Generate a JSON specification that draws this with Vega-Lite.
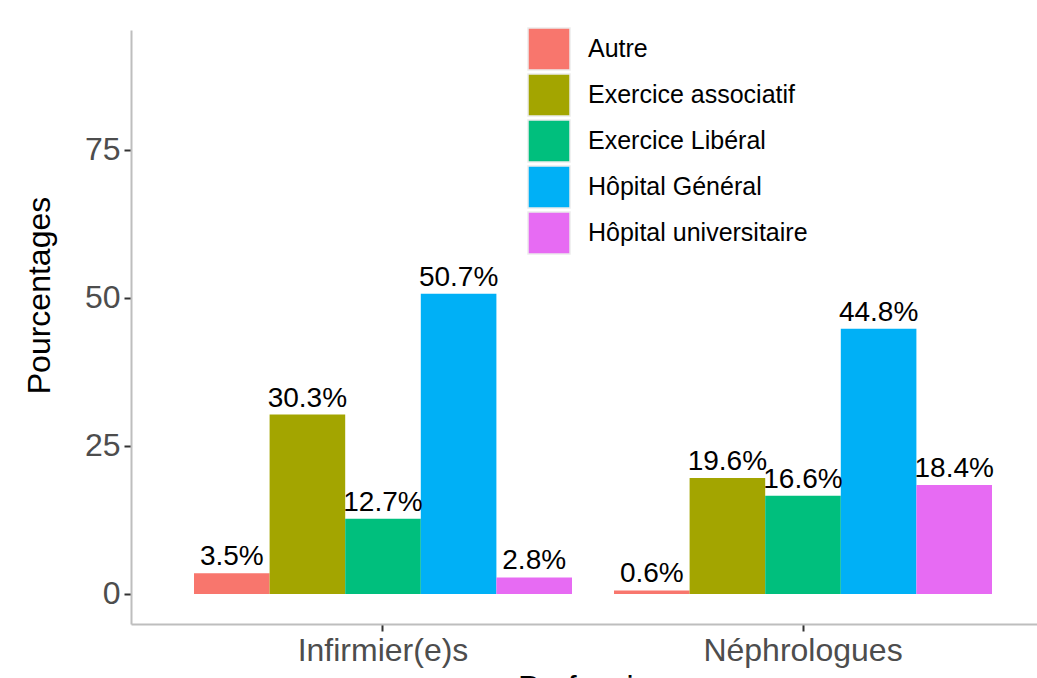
{
  "$schema": "https://vega.github.io/schema/vega-lite/v6.json",
  "autosize": {"type": "none"},
  "padding": {"left": 131, "top": 30, "right": 0, "bottom": 54},
  "width": 924,
  "height": 594,
  "background": "white",
  "config": {
    "view": {"stroke": null},
    "font": "Liberation Sans"
  },
  "data": {
    "values": [
      {"profession": "Infirmier(e)s", "lieu": "Autre", "pct": 3.5, "label": "3.5%"},
      {"profession": "Infirmier(e)s", "lieu": "Exercice associatif", "pct": 30.3, "label": "30.3%"},
      {"profession": "Infirmier(e)s", "lieu": "Exercice Libéral", "pct": 12.7, "label": "12.7%"},
      {"profession": "Infirmier(e)s", "lieu": "Hôpital Général", "pct": 50.7, "label": "50.7%"},
      {"profession": "Infirmier(e)s", "lieu": "Hôpital universitaire", "pct": 2.8, "label": "2.8%"},
      {"profession": "Néphrologues", "lieu": "Autre", "pct": 0.6, "label": "0.6%"},
      {"profession": "Néphrologues", "lieu": "Exercice associatif", "pct": 19.6, "label": "19.6%"},
      {"profession": "Néphrologues", "lieu": "Exercice Libéral", "pct": 16.6, "label": "16.6%"},
      {"profession": "Néphrologues", "lieu": "Hôpital Général", "pct": 44.8, "label": "44.8%"},
      {"profession": "Néphrologues", "lieu": "Hôpital universitaire", "pct": 18.4, "label": "18.4%"}
    ]
  },
  "encoding": {
    "x": {
      "field": "profession",
      "type": "nominal",
      "scale": {"paddingInner": 0.1, "paddingOuter": 0.15},
      "axis": {
        "title": "Profession",
        "titleFontSize": 32,
        "titleFontWeight": "normal",
        "titleColor": "black",
        "titlePadding": 6,
        "labelAngle": 0,
        "labelFontSize": 32,
        "labelColor": "#4D4D4D",
        "labelPadding": 4,
        "labelLimit": 400,
        "tickSize": 7,
        "tickWidth": 2,
        "tickColor": "#333333",
        "domainColor": "#BEBEBE",
        "domainWidth": 2,
        "grid": false
      }
    },
    "xOffset": {
      "field": "lieu",
      "type": "nominal",
      "sort": ["Autre", "Exercice associatif", "Exercice Libéral", "Hôpital Général", "Hôpital universitaire"],
      "scale": {"paddingInner": 0, "paddingOuter": 0}
    },
    "y": {
      "field": "pct",
      "type": "quantitative",
      "scale": {"domain": [-5.07, 95.27], "nice": false, "zero": false},
      "axis": {
        "title": "Pourcentages",
        "titleFontSize": 32,
        "titleFontWeight": "normal",
        "titleColor": "black",
        "titleX": -82,
        "titleY": 265,
        "titleBaseline": "alphabetic",
        "values": [0, 25, 50, 75],
        "labelFontSize": 32,
        "labelColor": "#4D4D4D",
        "labelPadding": 4,
        "tickSize": 7,
        "tickWidth": 2,
        "tickColor": "#333333",
        "domainColor": "#BEBEBE",
        "domainWidth": 2,
        "grid": false
      }
    }
  },
  "layer": [
    {
      "mark": {"type": "bar"},
      "encoding": {
        "y": {"field": "pct", "type": "quantitative", "stack": null},
        "y2": {"datum": 0},
        "color": {
          "field": "lieu",
          "type": "nominal",
          "scale": {
            "domain": ["Autre", "Exercice associatif", "Exercice Libéral", "Hôpital Général", "Hôpital universitaire"],
            "range": ["#F8766D", "#A3A500", "#00BF7D", "#00B0F6", "#E76BF3"]
          },
          "legend": {
            "title": null,
            "orient": "none",
            "legendX": 396,
            "legendY": -3,
            "padding": 0,
            "symbolType": "square",
            "symbolSize": 1764,
            "symbolStrokeColor": "#EBEBEB",
            "symbolStrokeWidth": 1.5,
            "symbolOpacity": 1,
            "rowPadding": -2,
            "labelFontSize": 25,
            "labelColor": "black",
            "labelOffset": 17,
            "labelLimit": 400
          }
        }
      }
    },
    {
      "mark": {"type": "text", "baseline": "alphabetic", "dy": -8, "fontSize": 28, "color": "black"},
      "encoding": {
        "y": {"field": "pct", "type": "quantitative", "stack": null},
        "text": {"field": "label", "type": "nominal"}
      }
    }
  ]
}
